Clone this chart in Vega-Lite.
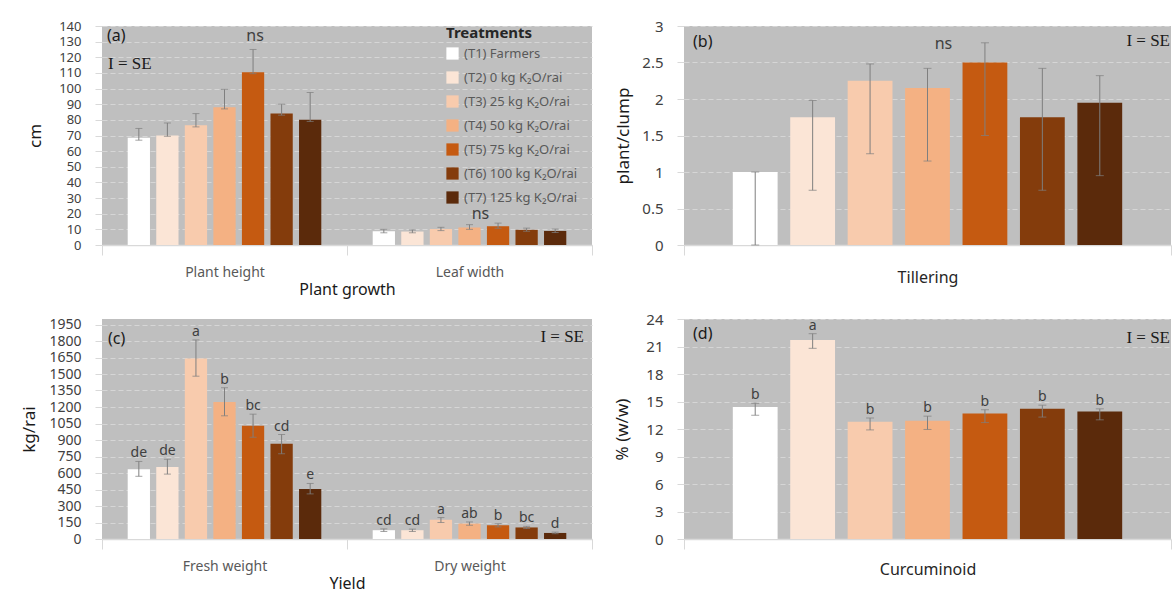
{
 "$schema": "https://vega.github.io/schema/vega-lite/v6.json",
 "padding": {"left": 20, "top": 19, "right": 0, "bottom": 6},
 "background": "#ffffff",
 "datasets": {
  "growth": [
   {"group":"Plant height","t":"(T1) Farmers","v":68.5,"lo":67,"hi":74.5},
   {"group":"Plant height","t":"(T2) 0 kg K\u2082O/rai","v":70,"lo":69.5,"hi":78},
   {"group":"Plant height","t":"(T3) 25 kg K\u2082O/rai","v":76.5,"lo":75.5,"hi":84},
   {"group":"Plant height","t":"(T4) 50 kg K\u2082O/rai","v":88,"lo":87,"hi":99.5},
   {"group":"Plant height","t":"(T5) 75 kg K\u2082O/rai","v":110.5,"lo":109.5,"hi":125},
   {"group":"Plant height","t":"(T6) 100 kg K\u2082O/rai","v":84,"lo":83,"hi":90},
   {"group":"Plant height","t":"(T7) 125 kg K\u2082O/rai","v":80,"lo":79,"hi":97.5},
   {"group":"Leaf width","t":"(T1) Farmers","v":8.8,"lo":7.8,"hi":10},
   {"group":"Leaf width","t":"(T2) 0 kg K\u2082O/rai","v":8.6,"lo":7.8,"hi":9.6},
   {"group":"Leaf width","t":"(T3) 25 kg K\u2082O/rai","v":10.2,"lo":9.2,"hi":11.3},
   {"group":"Leaf width","t":"(T4) 50 kg K\u2082O/rai","v":11.2,"lo":10,"hi":13},
   {"group":"Leaf width","t":"(T5) 75 kg K\u2082O/rai","v":12,"lo":10.7,"hi":14},
   {"group":"Leaf width","t":"(T6) 100 kg K\u2082O/rai","v":9.7,"lo":8.8,"hi":10.8},
   {"group":"Leaf width","t":"(T7) 125 kg K\u2082O/rai","v":9,"lo":8,"hi":10.2}
  ],
  "tiller": [
   {"group":"Tillering","t":"(T1) Farmers","v":1.0,"lo":0,"hi":1.0},
   {"group":"Tillering","t":"(T2) 0 kg K\u2082O/rai","v":1.75,"lo":0.75,"hi":1.98},
   {"group":"Tillering","t":"(T3) 25 kg K\u2082O/rai","v":2.25,"lo":1.25,"hi":2.48},
   {"group":"Tillering","t":"(T4) 50 kg K\u2082O/rai","v":2.15,"lo":1.15,"hi":2.42},
   {"group":"Tillering","t":"(T5) 75 kg K\u2082O/rai","v":2.5,"lo":1.5,"hi":2.77},
   {"group":"Tillering","t":"(T6) 100 kg K\u2082O/rai","v":1.75,"lo":0.75,"hi":2.42},
   {"group":"Tillering","t":"(T7) 125 kg K\u2082O/rai","v":1.95,"lo":0.95,"hi":2.32}
  ],
  "yield": [
   {"group":"Fresh weight","t":"(T1) Farmers","v":635,"lo":570,"hi":705,"sig":"de"},
   {"group":"Fresh weight","t":"(T2) 0 kg K\u2082O/rai","v":655,"lo":590,"hi":725,"sig":"de"},
   {"group":"Fresh weight","t":"(T3) 25 kg K\u2082O/rai","v":1640,"lo":1480,"hi":1810,"sig":"a"},
   {"group":"Fresh weight","t":"(T4) 50 kg K\u2082O/rai","v":1245,"lo":1120,"hi":1375,"sig":"b"},
   {"group":"Fresh weight","t":"(T5) 75 kg K\u2082O/rai","v":1030,"lo":925,"hi":1135,"sig":"bc"},
   {"group":"Fresh weight","t":"(T6) 100 kg K\u2082O/rai","v":865,"lo":775,"hi":950,"sig":"cd"},
   {"group":"Fresh weight","t":"(T7) 125 kg K\u2082O/rai","v":455,"lo":410,"hi":505,"sig":"e"},
   {"group":"Dry weight","t":"(T1) Farmers","v":80,"lo":68,"hi":92,"sig":"cd"},
   {"group":"Dry weight","t":"(T2) 0 kg K\u2082O/rai","v":80,"lo":68,"hi":90,"sig":"cd"},
   {"group":"Dry weight","t":"(T3) 25 kg K\u2082O/rai","v":175,"lo":150,"hi":195,"sig":"a"},
   {"group":"Dry weight","t":"(T4) 50 kg K\u2082O/rai","v":140,"lo":125,"hi":155,"sig":"ab"},
   {"group":"Dry weight","t":"(T5) 75 kg K\u2082O/rai","v":125,"lo":110,"hi":140,"sig":"b"},
   {"group":"Dry weight","t":"(T6) 100 kg K\u2082O/rai","v":105,"lo":95,"hi":115,"sig":"bc"},
   {"group":"Dry weight","t":"(T7) 125 kg K\u2082O/rai","v":55,"lo":48,"hi":63,"sig":"d"}
  ],
  "curc": [
   {"group":"Curcuminoid","t":"(T1) Farmers","v":14.4,"lo":13.5,"hi":14.8,"sig":"b"},
   {"group":"Curcuminoid","t":"(T2) 0 kg K\u2082O/rai","v":21.7,"lo":20.8,"hi":22.4,"sig":"a"},
   {"group":"Curcuminoid","t":"(T3) 25 kg K\u2082O/rai","v":12.8,"lo":11.9,"hi":13.2,"sig":"b"},
   {"group":"Curcuminoid","t":"(T4) 50 kg K\u2082O/rai","v":12.9,"lo":11.95,"hi":13.4,"sig":"b"},
   {"group":"Curcuminoid","t":"(T5) 75 kg K\u2082O/rai","v":13.7,"lo":12.7,"hi":14.1,"sig":"b"},
   {"group":"Curcuminoid","t":"(T6) 100 kg K\u2082O/rai","v":14.2,"lo":13.3,"hi":14.6,"sig":"b"},
   {"group":"Curcuminoid","t":"(T7) 125 kg K\u2082O/rai","v":13.9,"lo":13.0,"hi":14.2,"sig":"b"}
  ]
 },
 "columns": 2,
 "spacing": {"row": 15, "column": 20},
 "resolve": {"scale": {"color": "independent", "x": "independent", "y": "independent", "xOffset": "independent"}, "legend": {"color": "independent"}},
 "concat": [
  {
   "width": 490, "height": 219,
   "layer": [
    {"data": {"name": "growth"}, "mark": {"type": "bar"},
     "encoding": {
      "x": {"field": "group", "type": "nominal", "title": "Plant growth", "sort": ["Plant height", "Leaf width"], "scale": {"paddingInner": 0, "paddingOuter": 0}},
      "xOffset": {"field": "t", "type": "nominal", "scale": {"paddingInner": 0.22, "paddingOuter": 0.9}},
      "y": {"field": "v", "type": "quantitative", "title": "cm", "scale": {"domain": [0, 140]}, "axis": {"values": [0,10,20,30,40,50,60,70,80,90,100,110,120,130,140], "titlePadding": 14, "labelFontSize": 13}},
      "color": {"field": "t", "type": "nominal", "scale": {"domain": ["(T1) Farmers","(T2) 0 kg K\u2082O/rai","(T3) 25 kg K\u2082O/rai","(T4) 50 kg K\u2082O/rai","(T5) 75 kg K\u2082O/rai","(T6) 100 kg K\u2082O/rai","(T7) 125 kg K\u2082O/rai"], "range": ["#ffffff","#fbe5d6","#f8cbad","#f4b183","#c55a11","#843c0c","#5b2a0b"]},
       "legend": {"orient": "none", "legendX": 344, "legendY": 0, "title": "Treatments", "titleFontSize": 15, "titleColor": "#262626", "titleFontWeight": "bold", "titlePadding": 6, "labelFontSize": 13, "labelColor": "#595959", "symbolType": "square", "symbolSize": 150, "symbolStrokeWidth": 0, "rowPadding": 10, "labelOffset": 5, "padding": 0}}
     }},
    {"data": {"name": "growth"}, "mark": {"type": "rule", "color": "#7f7f7f"},
     "encoding": {
      "x": {"field": "group", "type": "nominal", "title": "Plant growth", "sort": ["Plant height", "Leaf width"]},
      "xOffset": {"field": "t", "type": "nominal"},
      "y": {"field": "lo", "type": "quantitative", "title": "cm", "axis": {"values": [0,10,20,30,40,50,60,70,80,90,100,110,120,130,140], "titlePadding": 14, "labelFontSize": 13}}, "y2": {"field": "hi"}}},
    {"data": {"name": "growth"}, "mark": {"type": "tick", "color": "#7f7f7f", "thickness": 1, "size": 7},
     "encoding": {
      "x": {"field": "group", "type": "nominal", "title": "Plant growth", "sort": ["Plant height", "Leaf width"]},
      "xOffset": {"field": "t", "type": "nominal"},
      "y": {"field": "lo", "type": "quantitative", "title": "cm", "axis": {"values": [0,10,20,30,40,50,60,70,80,90,100,110,120,130,140], "titlePadding": 14, "labelFontSize": 13}}}},
    {"data": {"name": "growth"}, "mark": {"type": "tick", "color": "#7f7f7f", "thickness": 1, "size": 7},
     "encoding": {
      "x": {"field": "group", "type": "nominal", "title": "Plant growth", "sort": ["Plant height", "Leaf width"]},
      "xOffset": {"field": "t", "type": "nominal"},
      "y": {"field": "hi", "type": "quantitative", "title": "cm", "axis": {"values": [0,10,20,30,40,50,60,70,80,90,100,110,120,130,140], "titlePadding": 14, "labelFontSize": 13}}}},
    {"data": {"values": [{"group": "Plant height", "t": "(T5) 75 kg K\u2082O/rai", "y": 133.7, "label": "ns"}]},
     "mark": {"type": "text", "baseline": "middle", "fontSize": 16, "color": "#404040", "dx": 2},
     "encoding": {
      "x": {"field": "group", "type": "nominal", "title": "Plant growth", "sort": ["Plant height", "Leaf width"]},
      "xOffset": {"field": "t", "type": "nominal"},
      "y": {"field": "y", "type": "quantitative", "title": "cm", "axis": {"values": [0,10,20,30,40,50,60,70,80,90,100,110,120,130,140], "titlePadding": 14, "labelFontSize": 13}}, "text": {"field": "label"}}},
    {"data": {"values": [{"group": "Leaf width", "t": "(T4) 50 kg K\u2082O/rai", "y": 19.6, "label": "ns"}]},
     "mark": {"type": "text", "baseline": "middle", "fontSize": 16, "color": "#404040", "dx": 11},
     "encoding": {
      "x": {"field": "group", "type": "nominal", "title": "Plant growth", "sort": ["Plant height", "Leaf width"]},
      "xOffset": {"field": "t", "type": "nominal"},
      "y": {"field": "y", "type": "quantitative", "title": "cm", "axis": {"values": [0,10,20,30,40,50,60,70,80,90,100,110,120,130,140], "titlePadding": 14, "labelFontSize": 13}}, "text": {"field": "label"}}},
    {"data": {"values": [{"label": "(a)", "y": 133.7}]},
     "mark": {"type": "text", "align": "left", "baseline": "middle", "fontSize": 16, "color": "#1a1a1a", "dx": 5},
     "encoding": {
      "x": {"datum": "Plant height", "type": "nominal", "title": "Plant growth", "bandPosition": 0},
      "y": {"field": "y", "type": "quantitative", "title": "cm", "axis": {"values": [0,10,20,30,40,50,60,70,80,90,100,110,120,130,140], "titlePadding": 14, "labelFontSize": 13}}, "text": {"field": "label"}}},
    {"data": {"values": [{"label": "I = SE", "y": 115.8}]},
     "mark": {"type": "text", "align": "left", "baseline": "middle", "fontSize": 17, "font": "Liberation Serif", "color": "#1a1a1a", "dx": 6},
     "encoding": {
      "x": {"datum": "Plant height", "type": "nominal", "title": "Plant growth", "bandPosition": 0},
      "y": {"field": "y", "type": "quantitative", "title": "cm", "axis": {"values": [0,10,20,30,40,50,60,70,80,90,100,110,120,130,140], "titlePadding": 14, "labelFontSize": 13}}, "text": {"field": "label"}}}
   ]
  },
  {
   "width": 487, "height": 219,
   "layer": [
    {"data": {"name": "tiller"}, "mark": {"type": "bar"},
     "encoding": {
      "x": {"field": "group", "type": "nominal", "title": null, "scale": {"paddingInner": 0, "paddingOuter": 0}, "axis": {"labelFontSize": 16, "labelColor": "#262626", "labelPadding": 14}},
      "xOffset": {"field": "t", "type": "nominal", "scale": {"paddingInner": 0.22, "paddingOuter": 0.85}},
      "y": {"field": "v", "type": "quantitative", "title": "plant/clump", "scale": {"domain": [0, 3]}, "axis": {"values": [0,0.5,1,1.5,2,2.5,3], "format": "~g", "titlePadding": 9}},
      "color": {"field": "t", "type": "nominal", "scale": {"domain": ["(T1) Farmers","(T2) 0 kg K\u2082O/rai","(T3) 25 kg K\u2082O/rai","(T4) 50 kg K\u2082O/rai","(T5) 75 kg K\u2082O/rai","(T6) 100 kg K\u2082O/rai","(T7) 125 kg K\u2082O/rai"], "range": ["#ffffff","#fbe5d6","#f8cbad","#f4b183","#c55a11","#843c0c","#5b2a0b"]}, "legend": null}
     }},
    {"data": {"name": "tiller"}, "mark": {"type": "rule", "color": "#7f7f7f"},
     "encoding": {
      "x": {"field": "group", "type": "nominal", "title": null, "axis": {"labelFontSize": 16, "labelColor": "#262626", "labelPadding": 14}},
      "xOffset": {"field": "t", "type": "nominal"},
      "y": {"field": "lo", "type": "quantitative", "title": "plant/clump", "axis": {"values": [0,0.5,1,1.5,2,2.5,3], "format": "~g", "titlePadding": 9}}, "y2": {"field": "hi"}}},
    {"data": {"name": "tiller"}, "mark": {"type": "tick", "color": "#7f7f7f", "thickness": 1, "size": 8},
     "encoding": {
      "x": {"field": "group", "type": "nominal", "title": null, "axis": {"labelFontSize": 16, "labelColor": "#262626", "labelPadding": 14}},
      "xOffset": {"field": "t", "type": "nominal"},
      "y": {"field": "lo", "type": "quantitative", "title": "plant/clump", "axis": {"values": [0,0.5,1,1.5,2,2.5,3], "format": "~g", "titlePadding": 9}}}},
    {"data": {"name": "tiller"}, "mark": {"type": "tick", "color": "#7f7f7f", "thickness": 1, "size": 8},
     "encoding": {
      "x": {"field": "group", "type": "nominal", "title": null, "axis": {"labelFontSize": 16, "labelColor": "#262626", "labelPadding": 14}},
      "xOffset": {"field": "t", "type": "nominal"},
      "y": {"field": "hi", "type": "quantitative", "title": "plant/clump", "axis": {"values": [0,0.5,1,1.5,2,2.5,3], "format": "~g", "titlePadding": 9}}}},
    {"data": {"values": [{"group": "Tillering", "t": "(T4) 50 kg K\u2082O/rai", "y": 2.76, "label": "ns"}]},
     "mark": {"type": "text", "baseline": "middle", "fontSize": 16, "color": "#404040", "dx": 16},
     "encoding": {
      "x": {"field": "group", "type": "nominal", "title": null, "axis": {"labelFontSize": 16, "labelColor": "#262626", "labelPadding": 14}},
      "xOffset": {"field": "t", "type": "nominal"},
      "y": {"field": "y", "type": "quantitative", "title": "plant/clump", "axis": {"values": [0,0.5,1,1.5,2,2.5,3], "format": "~g", "titlePadding": 9}}, "text": {"field": "label"}}},
    {"data": {"values": [{"label": "(b)", "y": 2.78}]},
     "mark": {"type": "text", "align": "left", "baseline": "middle", "fontSize": 16, "color": "#1a1a1a", "dx": 9},
     "encoding": {
      "x": {"datum": "Tillering", "type": "nominal", "title": null, "bandPosition": 0, "axis": {"labelFontSize": 16, "labelColor": "#262626", "labelPadding": 14}},
      "y": {"field": "y", "type": "quantitative", "title": "plant/clump", "axis": {"values": [0,0.5,1,1.5,2,2.5,3], "format": "~g", "titlePadding": 9}}, "text": {"field": "label"}}},
    {"data": {"values": [{"label": "I = SE", "y": 2.79}]},
     "mark": {"type": "text", "align": "right", "baseline": "middle", "fontSize": 17, "font": "Liberation Serif", "color": "#1a1a1a", "dx": -1},
     "encoding": {
      "x": {"datum": "Tillering", "type": "nominal", "title": null, "bandPosition": 1, "axis": {"labelFontSize": 16, "labelColor": "#262626", "labelPadding": 14}},
      "y": {"field": "y", "type": "quantitative", "title": "plant/clump", "axis": {"values": [0,0.5,1,1.5,2,2.5,3], "format": "~g", "titlePadding": 9}}, "text": {"field": "label"}}}
   ]
  },
  {
   "width": 490, "height": 220,
   "layer": [
    {"data": {"name": "yield"}, "mark": {"type": "bar"},
     "encoding": {
      "x": {"field": "group", "type": "nominal", "title": "Yield", "sort": ["Fresh weight", "Dry weight"], "scale": {"paddingInner": 0, "paddingOuter": 0}},
      "xOffset": {"field": "t", "type": "nominal", "scale": {"paddingInner": 0.22, "paddingOuter": 0.9}},
      "y": {"field": "v", "type": "quantitative", "title": "kg/rai", "scale": {"domain": [0, 1950]}, "axis": {"values": [0,150,300,450,600,750,900,1050,1200,1350,1500,1650,1800,1950], "format": "d", "titlePadding": 10, "labelFontSize": 14}},
      "color": {"field": "t", "type": "nominal", "scale": {"domain": ["(T1) Farmers","(T2) 0 kg K\u2082O/rai","(T3) 25 kg K\u2082O/rai","(T4) 50 kg K\u2082O/rai","(T5) 75 kg K\u2082O/rai","(T6) 100 kg K\u2082O/rai","(T7) 125 kg K\u2082O/rai"], "range": ["#ffffff","#fbe5d6","#f8cbad","#f4b183","#c55a11","#843c0c","#5b2a0b"]}, "legend": null}
     }},
    {"data": {"name": "yield"}, "mark": {"type": "rule", "color": "#7f7f7f"},
     "encoding": {
      "x": {"field": "group", "type": "nominal", "title": "Yield", "sort": ["Fresh weight", "Dry weight"]},
      "xOffset": {"field": "t", "type": "nominal"},
      "y": {"field": "lo", "type": "quantitative", "title": "kg/rai", "axis": {"values": [0,150,300,450,600,750,900,1050,1200,1350,1500,1650,1800,1950], "format": "d", "titlePadding": 10, "labelFontSize": 14}}, "y2": {"field": "hi"}}},
    {"data": {"name": "yield"}, "mark": {"type": "tick", "color": "#7f7f7f", "thickness": 1, "size": 7},
     "encoding": {
      "x": {"field": "group", "type": "nominal", "title": "Yield", "sort": ["Fresh weight", "Dry weight"]},
      "xOffset": {"field": "t", "type": "nominal"},
      "y": {"field": "lo", "type": "quantitative", "title": "kg/rai", "axis": {"values": [0,150,300,450,600,750,900,1050,1200,1350,1500,1650,1800,1950], "format": "d", "titlePadding": 10, "labelFontSize": 14}}}},
    {"data": {"name": "yield"}, "mark": {"type": "tick", "color": "#7f7f7f", "thickness": 1, "size": 7},
     "encoding": {
      "x": {"field": "group", "type": "nominal", "title": "Yield", "sort": ["Fresh weight", "Dry weight"]},
      "xOffset": {"field": "t", "type": "nominal"},
      "y": {"field": "hi", "type": "quantitative", "title": "kg/rai", "axis": {"values": [0,150,300,450,600,750,900,1050,1200,1350,1500,1650,1800,1950], "format": "d", "titlePadding": 10, "labelFontSize": 14}}}},
    {"data": {"name": "yield"}, "mark": {"type": "text", "baseline": "bottom", "dy": -1, "fontSize": 14, "color": "#404040"},
     "encoding": {
      "x": {"field": "group", "type": "nominal", "title": "Yield", "sort": ["Fresh weight", "Dry weight"]},
      "xOffset": {"field": "t", "type": "nominal"},
      "y": {"field": "hi", "type": "quantitative", "title": "kg/rai", "axis": {"values": [0,150,300,450,600,750,900,1050,1200,1350,1500,1650,1800,1950], "format": "d", "titlePadding": 10, "labelFontSize": 14}}, "text": {"field": "sig"}}},
    {"data": {"values": [{"label": "(c)", "y": 1819}]},
     "mark": {"type": "text", "align": "left", "baseline": "middle", "fontSize": 16, "color": "#1a1a1a", "dx": 6},
     "encoding": {
      "x": {"datum": "Fresh weight", "type": "nominal", "title": "Yield", "bandPosition": 0},
      "y": {"field": "y", "type": "quantitative", "title": "kg/rai", "axis": {"values": [0,150,300,450,600,750,900,1050,1200,1350,1500,1650,1800,1950], "format": "d", "titlePadding": 10, "labelFontSize": 14}}, "text": {"field": "label"}}},
    {"data": {"values": [{"label": "I = SE", "y": 1836}]},
     "mark": {"type": "text", "align": "right", "baseline": "middle", "fontSize": 17, "font": "Liberation Serif", "color": "#1a1a1a", "dx": -8},
     "encoding": {
      "x": {"datum": "Dry weight", "type": "nominal", "title": "Yield", "bandPosition": 1},
      "y": {"field": "y", "type": "quantitative", "title": "kg/rai", "axis": {"values": [0,150,300,450,600,750,900,1050,1200,1350,1500,1650,1800,1950], "format": "d", "titlePadding": 10, "labelFontSize": 14}}, "text": {"field": "label"}}}
   ]
  },
  {
   "width": 487, "height": 220,
   "layer": [
    {"data": {"name": "curc"}, "mark": {"type": "bar"},
     "encoding": {
      "x": {"field": "group", "type": "nominal", "title": null, "scale": {"paddingInner": 0, "paddingOuter": 0}, "axis": {"labelFontSize": 16, "labelColor": "#262626", "labelPadding": 12}},
      "xOffset": {"field": "t", "type": "nominal", "scale": {"paddingInner": 0.22, "paddingOuter": 0.85}},
      "y": {"field": "v", "type": "quantitative", "title": "% (w/w)", "scale": {"domain": [0, 24]}, "axis": {"values": [0,3,6,9,12,15,18,21,24], "titlePadding": 14}},
      "color": {"field": "t", "type": "nominal", "scale": {"domain": ["(T1) Farmers","(T2) 0 kg K\u2082O/rai","(T3) 25 kg K\u2082O/rai","(T4) 50 kg K\u2082O/rai","(T5) 75 kg K\u2082O/rai","(T6) 100 kg K\u2082O/rai","(T7) 125 kg K\u2082O/rai"], "range": ["#ffffff","#fbe5d6","#f8cbad","#f4b183","#c55a11","#843c0c","#5b2a0b"]}, "legend": null}
     }},
    {"data": {"name": "curc"}, "mark": {"type": "rule", "color": "#7f7f7f"},
     "encoding": {
      "x": {"field": "group", "type": "nominal", "title": null, "axis": {"labelFontSize": 16, "labelColor": "#262626", "labelPadding": 12}},
      "xOffset": {"field": "t", "type": "nominal"},
      "y": {"field": "lo", "type": "quantitative", "title": "% (w/w)", "axis": {"values": [0,3,6,9,12,15,18,21,24], "titlePadding": 14}}, "y2": {"field": "hi"}}},
    {"data": {"name": "curc"}, "mark": {"type": "tick", "color": "#7f7f7f", "thickness": 1, "size": 8},
     "encoding": {
      "x": {"field": "group", "type": "nominal", "title": null, "axis": {"labelFontSize": 16, "labelColor": "#262626", "labelPadding": 12}},
      "xOffset": {"field": "t", "type": "nominal"},
      "y": {"field": "lo", "type": "quantitative", "title": "% (w/w)", "axis": {"values": [0,3,6,9,12,15,18,21,24], "titlePadding": 14}}}},
    {"data": {"name": "curc"}, "mark": {"type": "tick", "color": "#7f7f7f", "thickness": 1, "size": 8},
     "encoding": {
      "x": {"field": "group", "type": "nominal", "title": null, "axis": {"labelFontSize": 16, "labelColor": "#262626", "labelPadding": 12}},
      "xOffset": {"field": "t", "type": "nominal"},
      "y": {"field": "hi", "type": "quantitative", "title": "% (w/w)", "axis": {"values": [0,3,6,9,12,15,18,21,24], "titlePadding": 14}}}},
    {"data": {"name": "curc"}, "mark": {"type": "text", "baseline": "bottom", "dy": -1, "fontSize": 14, "color": "#404040"},
     "encoding": {
      "x": {"field": "group", "type": "nominal", "title": null, "axis": {"labelFontSize": 16, "labelColor": "#262626", "labelPadding": 12}},
      "xOffset": {"field": "t", "type": "nominal"},
      "y": {"field": "hi", "type": "quantitative", "title": "% (w/w)", "axis": {"values": [0,3,6,9,12,15,18,21,24], "titlePadding": 14}}, "text": {"field": "sig"}}},
    {"data": {"values": [{"label": "(d)", "y": 22.4}]},
     "mark": {"type": "text", "align": "left", "baseline": "middle", "fontSize": 16, "color": "#1a1a1a", "dx": 9},
     "encoding": {
      "x": {"datum": "Curcuminoid", "type": "nominal", "title": null, "bandPosition": 0, "axis": {"labelFontSize": 16, "labelColor": "#262626", "labelPadding": 12}},
      "y": {"field": "y", "type": "quantitative", "title": "% (w/w)", "axis": {"values": [0,3,6,9,12,15,18,21,24], "titlePadding": 14}}, "text": {"field": "label"}}},
    {"data": {"values": [{"label": "I = SE", "y": 21.9}]},
     "mark": {"type": "text", "align": "right", "baseline": "middle", "fontSize": 17, "font": "Liberation Serif", "color": "#1a1a1a", "dx": -1},
     "encoding": {
      "x": {"datum": "Curcuminoid", "type": "nominal", "title": null, "bandPosition": 1, "axis": {"labelFontSize": 16, "labelColor": "#262626", "labelPadding": 12}},
      "y": {"field": "y", "type": "quantitative", "title": "% (w/w)", "axis": {"values": [0,3,6,9,12,15,18,21,24], "titlePadding": 14}}, "text": {"field": "label"}}}
   ]
  }
 ],
 "config": {
  "font": "Noto Sans",
  "view": {"fill": "#bfbfbf", "stroke": null},
  "axisY": {"domain": false, "ticks": true, "tickSize": 7, "tickColor": "#d9d9d9", "gridColor": "#d6d6d6", "gridDash": [5, 3], "gridWidth": 1, "labelFontSize": 15, "labelColor": "#404040", "labelPadding": 14, "titleFontSize": 17, "titleFontWeight": "normal", "titleColor": "#1a1a1a"},
  "axisX": {"grid": false, "domainColor": "#d9d9d9", "domainWidth": 1.5, "tickColor": "#d9d9d9", "tickSize": 10, "tickBand": "extent", "labelAngle": 0, "labelFontSize": 14, "labelColor": "#595959", "labelPadding": 10, "titleFontSize": 16, "titleFontWeight": "normal", "titleColor": "#1a1a1a", "titlePadding": 2}
 }
}
